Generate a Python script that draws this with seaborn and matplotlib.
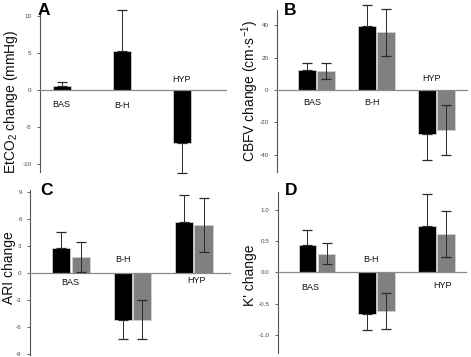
import matplotlib
matplotlib.use('Agg')
import matplotlib.pyplot as plt
import seaborn as sns
import pandas as pd

sns.set_theme(style='white')
plt.rcParams['font.family'] = ['Liberation Sans', 'DejaVu Sans']
plt.rcParams['axes.unicode_minus'] = False
plt.rcParams['mathtext.fontset'] = 'custom'
plt.rcParams['mathtext.rm'] = 'Liberation Sans'
plt.rcParams['mathtext.it'] = 'Liberation Sans:italic'

categories = ['BAS', 'B-H', 'HYP']
series = ['first', 'second']

# Panel A (single series)
a_black = [0.55, 5.3, -7.2]
a_black_err = [0.5, 5.5, 4.0]
# Panel B
b_black = [12.4, 39.8, -27.4]
b_black_err = [4.5, 12.8, 15.9]
b_gray = [11.8, 35.7, -24.7]
b_gray_err = [5.2, 14.5, 15.6]
# Panel C
c_black = [2.78, -5.25, 5.67]
c_black_err = [1.7, 2.15, 2.96]
c_gray = [1.74, -5.2, 5.3]
c_gray_err = [1.65, 2.2, 3.0]
# Panel D
d_black = [0.44, -0.66, 0.74]
d_black_err = [0.23, 0.27, 0.51]
d_gray = [0.30, -0.62, 0.61]
d_gray_err = [0.165, 0.29, 0.37]

a_ticks = [-10, -5, 0, 5, 10]
b_ticks = [-40, -20, 0, 20, 40]
c_ticks = [-9, -6, -3, 0, 3, 6, 9]
d_ticks = [-1.0, -0.5, 0.0, 0.5, 1.0]

W, H = 471, 357
fig = plt.figure(figsize=(W / 100, H / 100), dpi=100)


def px_axes(l, t, r, b):
    return fig.add_axes([l / W, 1 - b / H, (r - l) / W, (b - t) / H])


palette = {'first': '#000000', 'second': '#808080'}

panels = [
    dict(rect=(40, 10, 226, 172), black=a_black, berr=a_black_err, gray=None, gerr=None,
         ylim=(-11.1, 10.8), xlim=(-0.52, 2.58), ticks=a_ticks, fmt='{:g}',
         ylabel='EtCO$_2$ change (mmHg)', ylpos=(11, 102), letter='A', lpos=(38, 15),
         labx=[-0.16, -0.16, -0.16], laby=[-2.0, -2.1, 1.4]),
    dict(rect=(277, 10, 467, 172), black=b_black, berr=b_black_err, gray=b_gray, gerr=b_gray_err,
         ylim=(-50.7, 49.5), xlim=(-0.66, 2.51), ticks=b_ticks, fmt='{:g}',
         ylabel='CBFV change (cm·s$^{-1}$)', ylpos=(250, 91), letter='B', lpos=(284, 15),
         labx=[-0.08, -0.08, -0.08], laby=[-8.0, -8.0, 7.4]),
    dict(rect=(30, 190, 230, 355), black=c_black, berr=c_black_err, gray=c_gray, gerr=c_gray_err,
         ylim=(-9.14, 9.2), xlim=(-0.67, 2.59), ticks=c_ticks, fmt='{:g}',
         ylabel='ARI change', ylpos=(9.5, 268), letter='C', lpos=(40, 195),
         labx=[-0.02, -0.15, 0.05], laby=[-1.1, 1.5, -0.9]),
    dict(rect=(277.7, 191.7, 466, 353), black=d_black, berr=d_black_err, gray=d_gray, gerr=d_gray_err,
         ylim=(-1.29, 1.29), xlim=(-0.66, 2.5), ticks=d_ticks, fmt='{:.1f}',
         ylabel="K' change", ylpos=(250, 275), letter='D', lpos=(285, 195),
         labx=[-0.12, -0.1, 0.1], laby=[-0.25, 0.21, -0.21]),
]

for p in panels:
    ax = px_axes(*p['rect'])
    rows = []
    for i, c in enumerate(categories):
        rows.append(dict(cat=c, series='first', value=p['black'][i], err=p['berr'][i]))
        if p['gray'] is not None:
            rows.append(dict(cat=c, series='second', value=p['gray'][i], err=p['gerr'][i]))
    df = pd.DataFrame(rows)
    sns.barplot(data=df, x='cat', y='value', hue='series', order=categories,
                hue_order=series, palette=palette, width=0.64, gap=0.07, dodge=True,
                errorbar=None, legend=False, edgecolor='#d0d0d0', linewidth=0.6,
                saturation=1, ax=ax)
    bars = sorted(ax.patches, key=lambda b: b.get_x())
    for bar, (_, r) in zip(bars, df.iterrows()):
        x = bar.get_x() + bar.get_width() / 2
        v = r['value']
        e = r['err']
        if r['series'] == 'first':
            yerr = [[0], [e]] if v > 0 else [[e], [0]]
        else:
            yerr = [[e], [e]]
        ax.errorbar([x], [v], yerr=yerr, fmt='none', ecolor='#2a2a2a',
                    elinewidth=0.7, capsize=3.6, capthick=0.9, clip_on=False, zorder=5)
    for i, c in enumerate(categories):
        ax.text(i + p['labx'][i], p['laby'][i], c, ha='center', va='center',
                fontsize=6.5, color='#111111')
    ax.set_xlim(*p['xlim'])
    ax.set_ylim(*p['ylim'])
    ax.set_yticks(p['ticks'])
    ax.set_yticklabels([p['fmt'].format(t) for t in p['ticks']])
    ax.set_xticks([])
    ax.set_xlabel('')
    ax.set_ylabel('')
    ax.tick_params(axis='y', length=2, width=0.6, labelsize=4.5, colors='#444444', pad=4,
                   left=True)
    for s in ['top', 'right']:
        ax.spines[s].set_visible(False)
    ax.spines['left'].set_color('#555555')
    ax.spines['left'].set_linewidth(0.8)
    ax.spines['bottom'].set_position(('data', 0))
    ax.spines['bottom'].set_color('#8a8a8a')
    ax.spines['bottom'].set_linewidth(0.9)
    ax.patch.set_alpha(0)
    fig.text(p['ylpos'][0] / W, 1 - p['ylpos'][1] / H, p['ylabel'], rotation=90,
             ha='center', va='center', fontsize=10, color='#111111')
    fig.text(p['lpos'][0] / W, 1 - p['lpos'][1] / H, p['letter'], ha='left',
             va='baseline', fontsize=12.5, fontweight='bold', color='#000000')

fig.savefig('out.png', dpi=100)
